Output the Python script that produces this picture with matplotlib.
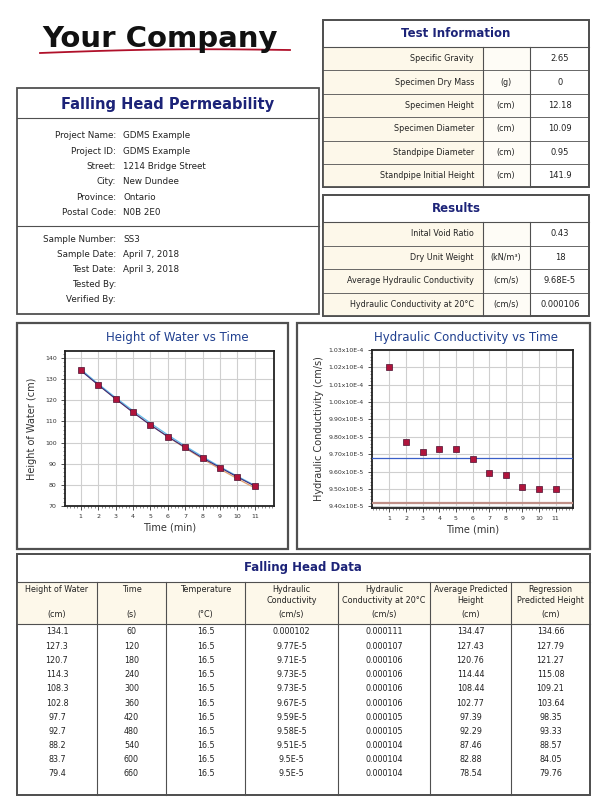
import matplotlib
matplotlib.use("Agg")
import matplotlib.pyplot as plt
import matplotlib.ticker as mticker
from matplotlib.patches import Rectangle
import numpy as np

# ── data ─────────────────────────────────────────────
project_labels = ["Project Name:", "Project ID:", "Street:", "City:", "Province:", "Postal Code:"]
project_values = ["GDMS Example", "GDMS Example", "1214 Bridge Street", "New Dundee", "Ontario", "N0B 2E0"]
sample_labels = ["Sample Number:", "Sample Date:", "Test Date:", "Tested By:", "Verified By:"]
sample_values = ["SS3", "April 7, 2018", "April 3, 2018", "", ""]

test_info_labels = ["Specific Gravity", "Specimen Dry Mass", "Specimen Height",
                    "Specimen Diameter", "Standpipe Diameter", "Standpipe Initial Height"]
test_info_units = ["", "(g)", "(cm)", "(cm)", "(cm)", "(cm)"]
test_info_values = ["2.65", "0", "12.18", "10.09", "0.95", "141.9"]

result_labels = ["Inital Void Ratio", "Dry Unit Weight", "Average Hydraulic Conductivity",
                 "Hydraulic Conductivity at 20°C"]
result_units = ["", "(kN/m³)", "(cm/s)", "(cm/s)"]
result_values = ["0.43", "18", "9.68E-5", "0.000106"]

time_min = [1, 2, 3, 4, 5, 6, 7, 8, 9, 10, 11]
time_s = [60, 120, 180, 240, 300, 360, 420, 480, 540, 600, 660]
height = [134.1, 127.3, 120.7, 114.3, 108.3, 102.8, 97.7, 92.7, 88.2, 83.7, 79.4]
temperature = [16.5] * 11
k_str = ["0.000102", "9.77E-5", "9.71E-5", "9.73E-5", "9.73E-5", "9.67E-5",
         "9.59E-5", "9.58E-5", "9.51E-5", "9.5E-5", "9.5E-5"]
k20_str = ["0.000111", "0.000107", "0.000106", "0.000106", "0.000106", "0.000106",
           "0.000105", "0.000105", "0.000104", "0.000104", "0.000104"]
avg_pred = [134.47, 127.43, 120.76, 114.44, 108.44, 102.77, 97.39, 92.29, 87.46, 82.88, 78.54]
reg_pred = [134.66, 127.79, 121.27, 115.08, 109.21, 103.64, 98.35, 93.33, 88.57, 84.05, 79.76]
k_vals = [float(s) for s in k_str]
k_avg = 9.68e-5
k_low = 9.42e-5

table_headers = [("Height of Water", "(cm)"), ("Time", "(s)"), ("Temperature", "(°C)"),
                 ("Hydraulic\nConductivity", "(cm/s)"), ("Hydraulic\nConductivity at 20°C", "(cm/s)"),
                 ("Average Predicted\nHeight", "(cm)"), ("Regression\nPredicted Height", "(cm)")]

# ── style ────────────────────────────────────────────
NAVY = "#1c2378"
CREAM = "#fdf8ea"
EDGE = "#505050"
FS = 6.3

fig = plt.figure(figsize=(6.09, 8.0), dpi=100)
bg = fig.add_axes([0, 0, 1, 1])
bg.set_xlim(0, 609)
bg.set_ylim(800, 0)
bg.axis("off")


def box(x0, y0, x1, y1, fc="white", lw=1.0, ec=EDGE, z=1):
    bg.add_patch(Rectangle((x0, y0), x1 - x0, y1 - y0, fc=fc, ec=ec, lw=lw, zorder=z))


def hline(y, x0, x1, lw=0.8):
    bg.plot([x0, x1], [y, y], color=EDGE, lw=lw, zorder=3)


def vline(x, y0, y1, lw=0.8):
    bg.plot([x, x], [y0, y1], color=EDGE, lw=lw, zorder=3)


# logo
bg.text(160, 39, "Your Company", ha="center", va="center", fontsize=21,
        fontweight="bold", color="#111111")
sx = np.linspace(40, 290, 60)
bg.plot(sx, 53 - 2.0 * np.sin((sx - 40) / 250 * np.pi) - (sx - 40) * 0.012,
        color="#b0102a", lw=1.3, zorder=2)

# ── left info box ────────────────────────────────────
box(17, 88, 319, 314, lw=1.3)
hline(118, 17, 319)
hline(226, 17, 319)
bg.text(168, 104, "Falling Head Permeability", ha="center", va="center",
        fontsize=10.5, fontweight="bold", color=NAVY)
for i, (lab, val) in enumerate(zip(project_labels, project_values)):
    y = 136 + i * 15.3
    bg.text(116, y, lab, ha="right", va="center", fontsize=FS, color="#222222")
    bg.text(123, y, val, ha="left", va="center", fontsize=FS, color="#222222")
for i, (lab, val) in enumerate(zip(sample_labels, sample_values)):
    y = 239 + i * 15.2
    bg.text(116, y, lab, ha="right", va="center", fontsize=FS, color="#222222")
    bg.text(123, y, val, ha="left", va="center", fontsize=FS, color="#222222")


# ── right info tables ────────────────────────────────
def info_table(top, title_bottom, row_h, labels, units, values, title):
    n = len(labels)
    bottom = title_bottom + n * row_h
    box(323, top, 589, bottom, lw=1.3)
    bg.add_patch(Rectangle((323, title_bottom), 483 - 323, bottom - title_bottom,
                           fc=CREAM, ec="none", zorder=2))
    bg.add_patch(Rectangle((483, title_bottom), 530 - 483, bottom - title_bottom,
                           fc="#fefcf6", ec="none", zorder=2))
    bg.text(456, (top + title_bottom) / 2, title, ha="center", va="center",
            fontsize=8.5, fontweight="bold", color=NAVY)
    hline(title_bottom, 323, 589)
    vline(483, title_bottom, bottom)
    vline(530, title_bottom, bottom)
    for i in range(n):
        y0 = title_bottom + i * row_h
        if i > 0:
            hline(y0, 323, 589, lw=0.6)
        yc = y0 + row_h / 2
        bg.text(474, yc, labels[i], ha="right", va="center", fontsize=5.8, color="#222222", zorder=4)
        bg.text(506, yc, units[i], ha="center", va="center", fontsize=5.8, color="#222222", zorder=4)
        bg.text(560, yc, values[i], ha="center", va="center", fontsize=6.0, color="#222222", zorder=4)
    box(323, top, 589, bottom, fc="none", lw=1.3, z=5)


info_table(20, 47, 23.4, test_info_labels, test_info_units, test_info_values, "Test Information")
info_table(195, 222, 23.5, result_labels, result_units, result_values, "Results")

# ── chart panels ─────────────────────────────────────
box(17, 323, 288, 549, lw=1.6)
box(297, 323, 590, 549, lw=1.6)
bg.text(177, 337, "Height of Water vs Time", ha="center", va="center",
        fontsize=8.5, color="#1f3f8f")
bg.text(466, 337, "Hydraulic Conductivity vs Time", ha="center", va="center",
        fontsize=8.5, color="#1f3f8f")


def style_chart(ax, xlim):
    ax.set_xlim(*xlim)
    ax.set_xticks(time_min)
    ax.xaxis.set_minor_locator(mticker.MultipleLocator(0.2))
    ax.grid(True, which="major", color="#cfcfcf", lw=0.8)
    ax.set_axisbelow(True)
    ax.tick_params(which="major", direction="out", length=3, width=0.6,
                   labelsize=4.5, colors="#333333", pad=3)
    ax.tick_params(which="minor", direction="out", length=1.5, width=0.4, colors="#333333")
    for s in ax.spines.values():
        s.set_linewidth(1.3)
        s.set_color("#222222")
    ax.set_xlabel("Time (min)", fontsize=7, color="#333333", labelpad=2)


axl = fig.add_axes([65 / 609, 1 - 506 / 800, 209 / 609, 155 / 800])
axl.plot(time_min, avg_pred, color="#e0a070", lw=0.9, zorder=3)
axl.plot(time_min, reg_pred, color="#60b8e8", lw=0.9, zorder=3)
axl.plot(time_min, height, color="#3a2a7a", lw=0.8, marker="s", ms=4,
         mfc="#b0143c", mec="#4a1030", mew=0.5, zorder=4)
axl.set_ylim(70, 143.3)
axl.set_yticks(range(70, 141, 10))
axl.yaxis.set_minor_locator(mticker.MultipleLocator(2))
style_chart(axl, (0.1, 12.1))
axl.set_ylabel("Height of Water (cm)", fontsize=7, color="#333333", labelpad=6)

axr = fig.add_axes([372 / 609, 1 - 508 / 800, 201 / 609, 158 / 800])
axr.axhline(k_avg, color="#3a5fc8", lw=0.9, zorder=3)
axr.axhline(k_low, color="#c09088", lw=1.6, zorder=3)
axr.plot(time_min, k_vals, ls="none", marker="s", ms=4, mfc="#b0143c",
         mec="#4a1030", mew=0.5, zorder=4)
axr.set_ylim(9.39e-5, 1.03e-4)
axr.set_yticks(np.arange(94, 104) * 1e-6)
axr.yaxis.set_minor_locator(mticker.MultipleLocator(2e-7))


def sci_fmt(v, pos):
    e = int(np.floor(np.log10(v) + 1e-9))
    return f"{v / 10 ** e:.2f}x10E{e}"


axr.yaxis.set_major_formatter(mticker.FuncFormatter(sci_fmt))
style_chart(axr, (-0.05, 12.05))
axr.set_ylabel("Hydraulic Conductivity (cm/s)", fontsize=7, color="#333333", labelpad=3)

# ── falling head data table ──────────────────────────
col_edges = [17, 97, 166, 245, 338, 430, 511, 590]
t_top, t_title, t_head = 554, 582, 624
t_bottom = 795
box(17, t_top, 590, t_bottom, lw=1.3)
bg.add_patch(Rectangle((17, t_title), 573, t_head - t_title, fc=CREAM, ec="none", zorder=2))
bg.text(303, 568, "Falling Head Data", ha="center", va="center",
        fontsize=8.5, fontweight="bold", color=NAVY)
hline(t_title, 17, 590)
hline(t_head, 17, 590)
for x in col_edges[1:-1]:
    vline(x, t_title, t_bottom)
columns = [[f"{v:g}" for v in height], [str(v) for v in time_s], [f"{v:g}" for v in temperature],
           k_str, k20_str, [f"{v:g}" for v in avg_pred], [f"{v:g}" for v in reg_pred]]
for j, ((head, unit), col) in enumerate(zip(table_headers, columns)):
    xc = (col_edges[j] + col_edges[j + 1]) / 2
    bg.text(xc, 585, head, ha="center", va="top", fontsize=5.8, color="#222222",
            linespacing=1.3, zorder=4)
    bg.text(xc, 614, unit, ha="center", va="center", fontsize=5.8, color="#222222", zorder=4)
    for i, val in enumerate(col):
        bg.text(xc, 632 + i * 14.2, val, ha="center", va="center", fontsize=5.8,
                color="#222222", zorder=4)
box(17, t_top, 590, t_bottom, fc="none", lw=1.3, z=5)

fig.savefig("out.png", dpi=100)
